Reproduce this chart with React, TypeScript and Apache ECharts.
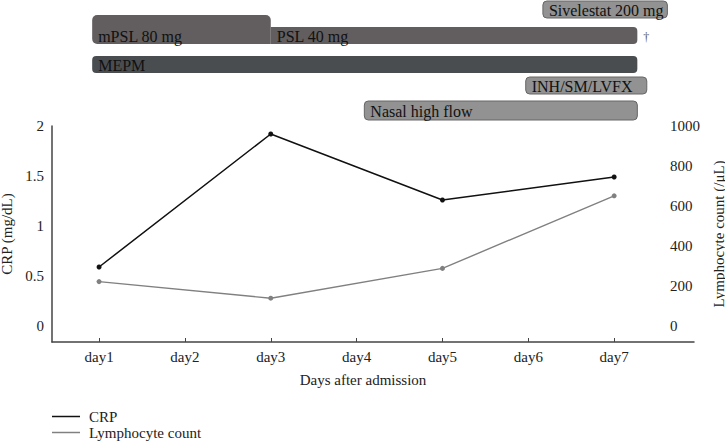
import React, { useEffect, useRef } from "react";
import * as echarts from "echarts";

// ---- data ----
const DAYS = [1, 3, 5, 7];
const DAY_TICKS = [1, 2, 3, 4, 5, 6, 7];
const CRP = [0.59, 1.92, 1.26, 1.49];
const LYMPH = [222, 139, 288, 651];
const CRP_TICKS = [0, 0.5, 1, 1.5, 2];
const LYMPH_TICKS = [0, 200, 400, 600, 800, 1000];
const ROWS = ["Sivelestat", "PSL", "MEPM", "INH", "Nasal"];
const TREAT_NAMES = ["Sivelestat 200 mg", "mPSL 80 mg", "PSL 40 mg", "MEPM", "INH/SM/LVFX", "Nasal high flow"];
const TREAT_START = [6.17, 0.92, 3.0, 0.92, 5.97, 4.09];
const TREAT_END = [7.62, 3.0, 7.27, 7.27, 7.38, 7.27];
const TREAT_ROW = [0, 1, 1, 2, 3, 4];
const DEATH_MARK = "†";

// ---- styles (not data) ----
const FONT = "'Liberation Serif', 'DejaVu Serif', serif";
const ROW_NUDGE = [-2.5, -0.5, 4.5, 1.5, 2.5];
const TREAT_STYLE: Record<string, any> = {
  "Sivelestat 200 mg": { fill: "#929292", stroke: "#666", h: 17, r: [4, 4, 4, 4] },
  "mPSL 80 mg": { fill: "#625d5e", stroke: null, h: 29, r: [5, 5, 0, 5], tall: true },
  "PSL 40 mg": { fill: "#625d5e", stroke: null, h: 17, r: [0, 4, 4, 0], mark: true },
  MEPM: { fill: "#4a4d50", stroke: null, h: 17, r: [4, 4, 4, 4] },
  "INH/SM/LVFX": { fill: "#929292", stroke: "#666", h: 17, r: [4, 4, 4, 4] },
  "Nasal high flow": { fill: "#929292", stroke: "#666", h: 19, r: [4, 4, 4, 4] },
};

const X_MIN = 0.452;
const X_MAX = 7.93;

const legendBase = {
  orient: "vertical",
  left: 52,
  padding: 0,
  icon: "rect",
  itemWidth: 28,
  itemHeight: 1.5,
  textStyle: { fontFamily: FONT, fontSize: 15, color: "#222", padding: [0, 0, 0, 4] },
};

export default function App() {
  const ref = useRef<HTMLDivElement>(null);
  useEffect(() => {
    const chart = echarts.init(ref.current!, undefined, { renderer: "svg" });
    const treatData = TREAT_NAMES.map((n, i) => ({
      name: n,
      value: [TREAT_START[i], TREAT_END[i], TREAT_ROW[i]],
    }));
    const option: any = {
      animation: false,
      textStyle: { fontFamily: FONT },
      grid: [
        { left: 52, right: 31, top: 126, bottom: 106, containLabel: false, outerBoundsMode: "none" },
        { left: 52, right: 31, top: 0, height: 120, containLabel: false, outerBoundsMode: "none" },
      ],
      legend: [
        { ...legendBase, data: ["CRP"], top: 409 },
        { ...legendBase, data: ["Lymphocyte count"], top: 425 },
      ],
      xAxis: [
        {
          type: "value",
          gridIndex: 0,
          min: X_MIN,
          max: X_MAX,
          name: "Days after admission",
          nameLocation: "middle",
          nameGap: 30,
          nameTextStyle: { fontFamily: FONT, fontSize: 15, color: "#222", padding: [0, 20, 0, 0] },
          axisLine: { onZero: false, lineStyle: { color: "#444", width: 1.5 } },
          axisTick: { show: true, inside: true, length: 4, customValues: DAY_TICKS, lineStyle: { color: "#444" } },
          axisLabel: {
            customValues: DAY_TICKS,
            formatter: (v: number) => "day" + v,
            fontFamily: FONT,
            fontSize: 15,
            color: "#222",
            margin: 7,
          },
          splitLine: { show: false },
        },
        { type: "value", gridIndex: 1, min: X_MIN, max: X_MAX, show: false },
      ],
      yAxis: [
        {
          type: "value",
          gridIndex: 0,
          min: -0.16,
          max: 2,
          name: "CRP (mg/dL)",
          nameLocation: "middle",
          nameGap: 29,
          nameTextStyle: { fontFamily: FONT, fontSize: 15, color: "#222" },
          axisLine: { show: true, lineStyle: { color: "#444", width: 1.5 } },
          axisTick: { show: false },
          axisLabel: {
            customValues: CRP_TICKS,
            formatter: (v: number) => String(v),
            fontFamily: FONT,
            fontSize: 15,
            color: "#222",
            margin: 8,
          },
          splitLine: { show: false },
        },
        {
          type: "value",
          gridIndex: 0,
          position: "right",
          offset: -32,
          min: -80,
          max: 1000,
          name: "Lymphocyte count (/μL)",
          nameLocation: "middle",
          nameGap: 49,
          nameTextStyle: { fontFamily: FONT, fontSize: 15, color: "#222" },
          axisLine: { show: false },
          axisTick: { show: false },
          axisLabel: {
            customValues: LYMPH_TICKS,
            formatter: (v: number) => String(v),
            fontFamily: FONT,
            fontSize: 15,
            color: "#222",
            margin: 8,
          },
          splitLine: { show: false },
        },
        { type: "category", gridIndex: 1, data: ROWS, inverse: true, show: false },
      ],
      series: [
        {
          name: "CRP",
          type: "line",
          xAxisIndex: 0,
          yAxisIndex: 0,
          data: DAYS.map((d, i) => [d, CRP[i]]),
          symbol: "circle",
          symbolSize: 5,
          lineStyle: { color: "#111", width: 1.5 },
          itemStyle: { color: "#111" },
        },
        {
          name: "Lymphocyte count",
          type: "line",
          xAxisIndex: 0,
          yAxisIndex: 1,
          data: DAYS.map((d, i) => [d, LYMPH[i]]),
          symbol: "circle",
          symbolSize: 5,
          lineStyle: { color: "#808080", width: 1.4 },
          itemStyle: { color: "#808080" },
        },
        {
          type: "custom",
          xAxisIndex: 1,
          yAxisIndex: 2,
          encode: { x: [0, 1], y: 2 },
          data: treatData,
          renderItem: (params: any, api: any) => {
            const idx = params.dataIndex;
            const name = TREAT_NAMES[idx];
            const st = TREAT_STYLE[name];
            const row = api.value(2);
            const p0 = api.coord([api.value(0), row]);
            const p1 = api.coord([api.value(1), row]);
            const cy = p0[1] + ROW_NUDGE[row];
            const h = st.h;
            const bottom = cy + 8.5;
            const top = st.tall ? bottom - h : cy - h / 2;
            const children: any[] = [
              {
                type: "rect",
                shape: { x: p0[0], y: top, width: p1[0] - p0[0], height: h, r: st.r },
                style: { fill: st.fill, stroke: st.stroke || "none", lineWidth: st.stroke ? 1 : 0 },
              },
              {
                type: "text",
                style: {
                  text: name,
                  x: p0[0] + 6,
                  y: cy + 1,
                  fill: "#111",
                  font: "16px " + FONT,
                  verticalAlign: "middle",
                  align: "left",
                },
              },
            ];
            if (st.mark) {
              children.push({
                type: "text",
                style: {
                  text: DEATH_MARK,
                  x: p1[0] + 6,
                  y: cy + 1,
                  fill: "#555",
                  font: "12px " + FONT,
                  verticalAlign: "middle",
                  align: "left",
                },
              });
            }
            return { type: "group", children };
          },
        },
      ],
    };
    chart.setOption(option);
    return () => chart.dispose();
  }, []);
  return <div ref={ref} style={{ position: "absolute", left: 0, top: 0, width: 725, height: 448 }} />;
}
